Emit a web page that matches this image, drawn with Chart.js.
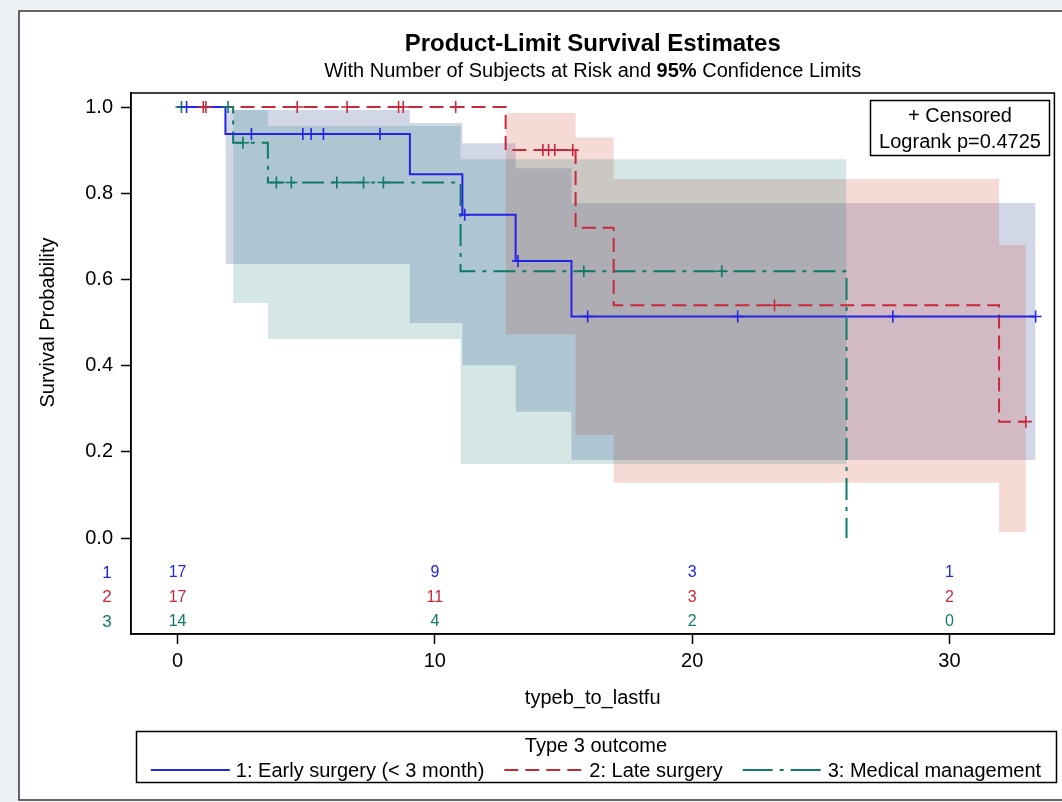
<!DOCTYPE html>
<html>
<head>
<meta charset="utf-8">
<title>Product-Limit Survival Estimates</title>
<script src="https://cdn.jsdelivr.net/npm/chart.js@4.4.0/dist/chart.umd.min.js"></script>
<style>
  html, body { margin: 0; padding: 0; background: #edf1f6; }
  #wrap { position: relative; width: 1062px; height: 802px; }
</style>
</head>
<body>
<div id="wrap"><canvas id="kmChart" width="1062" height="802"></canvas></div>
<script>
// Kaplan-Meier steps: time of event, survival just after it
const earlyTimes = [0, 1.86, 9.03, 11.07, 13.14, 15.31, 33.35];
const earlySurv  = [1, 0.9375, 0.844, 0.75, 0.643, 0.514, 0.514];
const lateTimes  = [0, 12.75, 15.47, 16.95, 31.93, 32.97];
const lateSurv   = [1, 0.9, 0.72, 0.54, 0.27, 0.27];
const medTimes   = [0, 2.16, 3.51, 11.0, 26.0];
const medSurv    = [1, 0.917, 0.825, 0.619, 0];

// censored observations (times)
const earlyCens = [0.35, 2.87, 4.87, 5.19, 5.67, 7.87, 11.16, 13.23, 15.94, 21.77, 27.8, 33.35];
const lateCens  = [1.0, 1.1, 4.65, 6.59, 8.59, 8.77, 10.81, 14.2, 14.42, 14.66, 15.36, 23.2, 32.97];
const medCens   = [0.15, 1.96, 2.54, 3.84, 4.42, 6.19, 7.23, 8.0, 15.79, 21.15];

// 95% confidence limits (step bands)
const earlyBandT = [1.86, 9.03, 11.07, 13.14, 15.31, 33.35];
const earlyUpper = [0.993, 0.963, 0.916, 0.858, 0.777, 0.777];
const earlyLower = [0.636, 0.499, 0.401, 0.293, 0.181, 0.181];
const lateBandT  = [12.75, 15.47, 16.95, 31.93, 32.97];
const lateUpper  = [0.986, 0.929, 0.833, 0.68, 0.68];
const lateLower  = [0.473, 0.239, 0.128, 0.014, 0.014];
const medBandT   = [2.16, 3.51, 11.0, 26.0];
const medUpper   = [0.993, 0.956, 0.879, 0.879];
const medLower   = [0.545, 0.462, 0.172, 0.172];

// number of subjects at risk
const riskTimes = [0, 10, 20, 30];
const riskEarly = [17, 9, 3, 1];
const riskLate  = [17, 11, 3, 2];
const riskMed   = [14, 4, 2, 0];

const xTicks = [0, 10, 20, 30];
const yTicks = [0, 0.2, 0.4, 0.6, 0.8, 1.0];

const groupNames = ['1: Early surgery (< 3 month)', '2: Late surgery', '3: Medical management'];
const groupColors = ['#2424e6', '#c8283c', '#0e7a67'];
const groupDash = [[], [14, 7], [22, 7, 4, 7]];
const legendDash = [[], [14, 7], [30, 7, 4, 7]];
const bandColors = ['rgba(68, 86, 160, 0.24)', 'rgba(205, 70, 50, 0.2)', 'rgba(1, 110, 100, 0.17)'];

const FONT = '"Liberation Sans", Arial, sans-serif';

function toPoints(xs, ys) {
    return xs.map((x, i) => ({ x: x, y: ys[i] }));
}

// survival value of a step curve at time t
function survAt(times, surv, t) {
    let v = surv[0];
    for (let i = 0; i < times.length; i++) {
        if (times[i] <= t) v = surv[i];
    }
    return v;
}

function censPoints(cens, times, surv) {
    return cens.map(t => ({ x: t, y: survAt(times, surv, t) }));
}

function curve(idx, xs, ys) {
    return {
        data: toPoints(xs, ys),
        borderColor: groupColors[idx],
        borderWidth: 2,
        borderDash: groupDash[idx],
        stepped: 'before',
        pointRadius: 0,
        fill: false,
        order: 1
    };
}

function censSet(idx, cens, xs, ys) {
    return {
        data: censPoints(cens, xs, ys),
        showLine: false,
        pointStyle: 'cross',
        pointRadius: 6,
        pointBorderWidth: 1.6,
        pointBorderColor: groupColors[idx],
        order: 0
    };
}

// bands: early drawn first, medical on top
function bandSet(idx, xs, ys, isUpper) {
    return {
        data: toPoints(xs, ys),
        borderColor: 'transparent',
        borderWidth: 0,
        backgroundColor: bandColors[idx],
        stepped: 'before',
        pointRadius: 0,
        fill: isUpper ? '+1' : false,
        order: 9 - idx
    };
}

const datasets = [
    censSet(0, earlyCens, earlyTimes, earlySurv),
    censSet(1, lateCens, lateTimes, lateSurv),
    censSet(2, medCens, medTimes, medSurv),
    curve(0, earlyTimes, earlySurv),
    curve(1, lateTimes, lateSurv),
    curve(2, medTimes, medSurv),
    bandSet(0, earlyBandT, earlyUpper, true),
    bandSet(0, earlyBandT, earlyLower, false),
    bandSet(1, lateBandT, lateUpper, true),
    bandSet(1, lateBandT, lateLower, false),
    bandSet(2, medBandT, medUpper, true),
    bandSet(2, medBandT, medLower, false)
];

// frame, titles, at-risk table, inset and legend
const decor = {
    id: 'decor',
    beforeDraw(chart) {
        const ctx = chart.ctx;
        ctx.save();
        ctx.fillStyle = '#edf1f6';
        ctx.fillRect(0, 0, chart.width, chart.height);
        ctx.fillStyle = '#fff';
        ctx.fillRect(19, 11, chart.width, chart.height);
        ctx.strokeStyle = '#333';
        ctx.lineWidth = 1.5;
        ctx.strokeRect(19, 11, chart.width + 10, chart.height - 13);
        ctx.restore();
    },
    afterDraw(chart) {
        const ctx = chart.ctx;
        const area = chart.chartArea;
        const xs = chart.scales.x;
        const ys = chart.scales.y;
        ctx.save();

        // plot frame
        ctx.strokeStyle = '#000';
        ctx.lineWidth = 1.5;
        ctx.strokeRect(area.left, area.top, area.right - area.left, area.bottom - area.top);

        // titles
        const cx = (area.left + area.right) / 2;
        ctx.fillStyle = '#000';
        ctx.textAlign = 'center';
        ctx.textBaseline = 'middle';
        ctx.font = 'bold 24px ' + FONT;
        ctx.fillText('Product-Limit Survival Estimates', cx, 44);

        const parts = [['With Number of Subjects at Risk and ', ''], ['95%', 'bold '], [' Confidence Limits', '']];
        let total = 0;
        parts.forEach(p => { ctx.font = p[1] + '20px ' + FONT; total += ctx.measureText(p[0]).width; });
        let sx = cx - total / 2;
        ctx.textAlign = 'left';
        parts.forEach(p => {
            ctx.font = p[1] + '20px ' + FONT;
            ctx.fillText(p[0], sx, 71);
            sx += ctx.measureText(p[0]).width;
        });

        // y axis title, centred on the 0..1 range
        ctx.save();
        ctx.translate(48, (ys.getPixelForValue(0) + ys.getPixelForValue(1)) / 2);
        ctx.rotate(-Math.PI / 2);
        ctx.textAlign = 'center';
        ctx.font = '20px ' + FONT;
        ctx.fillText('Survival Probability', 0, 0);
        ctx.restore();

        // number at risk
        const y0 = ys.getPixelForValue(0);
        const rows = [riskEarly, riskLate, riskMed];
        ctx.textAlign = 'center';
        rows.forEach((row, r) => {
            const ry = y0 + 35 + r * 24.5;
            ctx.fillStyle = groupColors[r];
            ctx.font = '17px ' + FONT;
            ctx.fillText(String(r + 1), 107, ry);
            ctx.font = '16px ' + FONT;
            row.forEach((n, i) => {
                ctx.fillText(String(n), xs.getPixelForValue(riskTimes[i]), ry);
            });
        });

        // inset box
        ctx.strokeStyle = '#000';
        ctx.lineWidth = 1.5;
        ctx.strokeRect(870.5, 100.5, 179, 55);
        ctx.fillStyle = '#000';
        ctx.font = '20px ' + FONT;
        ctx.fillText('+ Censored', 960, 116);
        ctx.fillText('Logrank p=0.4725', 960, 142);

        // legend
        ctx.strokeRect(136.5, 731.5, 920, 51);
        ctx.fillText('Type 3 outcome', 596, 746);
        const sample = 79, gapA = 6, gapB = 20;
        let w = 0;
        groupNames.forEach((g, i) => {
            w += sample + gapA + ctx.measureText(g).width + (i < 2 ? gapB : 0);
        });
        let lx = 596 - w / 2;
        const ly = 770;
        ctx.textAlign = 'left';
        groupNames.forEach((g, i) => {
            ctx.beginPath();
            ctx.strokeStyle = groupColors[i];
            ctx.lineWidth = 2;
            ctx.setLineDash(legendDash[i]);
            ctx.moveTo(lx, ly);
            ctx.lineTo(lx + sample, ly);
            ctx.stroke();
            ctx.setLineDash([]);
            lx += sample + gapA;
            ctx.fillStyle = '#000';
            ctx.fillText(g, lx, ly + 1);
            lx += ctx.measureText(g).width + gapB;
        });

        ctx.restore();
    }
};

const myChart = new Chart(document.getElementById('kmChart'), {
    type: 'line',
    data: { datasets: datasets },
    options: {
        responsive: false,
        animation: false,
        events: [],
        layout: { padding: { top: 93, right: 5, bottom: 68, left: 0 } },
        plugins: {
            legend: { display: false },
            tooltip: { enabled: false },
            title: { display: false }
        },
        scales: {
            x: {
                type: 'linear',
                min: -1.81,
                max: 34.08,
                afterBuildTicks: scale => { scale.ticks = xTicks.map(v => ({ value: v })); },
                afterFit: scale => { scale.height = 100; },
                ticks: {
                    color: '#000',
                    padding: 5,
                    font: { family: FONT, size: 20 },
                    callback: v => String(v)
                },
                grid: { drawOnChartArea: false, drawTicks: true, tickLength: 10, tickColor: '#000', tickWidth: 1.5 },
                border: { display: true, color: '#000', width: 1.5 },
                title: {
                    display: true,
                    text: 'typeb_to_lastfu',
                    color: '#000',
                    font: { family: FONT, size: 20 },
                    padding: { top: 4, bottom: 24 }
                }
            },
            y: {
                type: 'linear',
                min: -0.2227,
                max: 1.0325,
                afterBuildTicks: scale => { scale.ticks = yTicks.map(v => ({ value: v })); },
                afterFit: scale => { scale.width = 131; },
                ticks: {
                    color: '#000',
                    padding: 8,
                    font: { family: FONT, size: 20 },
                    callback: v => Number(v).toFixed(1)
                },
                grid: { drawOnChartArea: false, drawTicks: true, tickLength: 10, tickColor: '#000', tickWidth: 1.5 },
                border: { display: true, color: '#000', width: 1.5 }
            }
        }
    },
    plugins: [decor]
});
</script>
</body>
</html>
